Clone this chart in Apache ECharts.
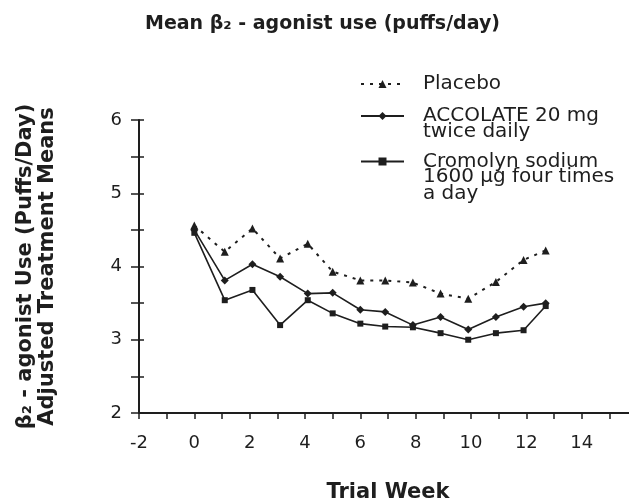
<!DOCTYPE html>
<html>
<head>
<meta charset="utf-8">
<script src="https://cdn.jsdelivr.net/npm/echarts@6/dist/echarts.min.js"></script>
<style>
  html, body { margin: 0; padding: 0; background: #fff; }
  #chart { width: 629px; height: 503px; }
</style>
</head>
<body>
<div id="chart"></div>
<script>
// data
const weeks = [0, 1.1, 2.1, 3.1, 4.1, 5, 6, 6.9, 7.9, 8.9, 9.9, 10.9, 11.9, 12.7]
const placebo = [4.56, 4.2, 4.52, 4.11, 4.31, 3.93, 3.81, 3.81, 3.78, 3.63, 3.56, 3.79, 4.09, 4.22]
const accolate = [4.5, 3.81, 4.03, 3.86, 3.63, 3.64, 3.41, 3.38, 3.2, 3.31, 3.14, 3.31, 3.45, 3.5]
const cromolyn = [4.46, 3.54, 3.68, 3.2, 3.54, 3.36, 3.22, 3.18, 3.17, 3.09, 3.0, 3.09, 3.13, 3.46]
const seriesNames = ['Placebo', 'ACCOLATE 20 mg\ntwice daily', 'Cromolyn sodium\n1600 µg four times\na day']

const ink = '#1e1e1e'
const font = 'DejaVu Sans'
const legendFont = 20
const lh = 16.5

const myChart = echarts.init(document.getElementById('chart'))

const toPoints = vals => weeks.map((w, i) => [w, vals[i]])

// legend shows the first line next to the symbol (symbol sits on that line),
// the rest of each name is written underneath as plain text
const legendTops = [74, 106, 151.5]
const legendFor = (name, top) => ({
  data: [name],
  orient: 'vertical',
  left: 360,
  top: top,
  padding: 0,
  itemWidth: 43,
  itemHeight: 10,
  itemGap: 0,
  selectedMode: false,
  formatter: n => n.split('\n')[0],
  textStyle: {
    color: ink,
    fontFamily: font,
    fontSize: legendFont,
    lineHeight: 17,
    padding: [0, 0, 0, 14],
  },
})

const extraLines = []
seriesNames.forEach((name, i) => {
  name.split('\n').slice(1).forEach((line, j) => {
    extraLines.push({
      type: 'text',
      x: 423,
      y: legendTops[i] + 9 + (j + 1) * lh,
      silent: true,
      style: {
        text: line,
        fill: ink,
        font: legendFont + 'px "' + font + '"',
        verticalAlign: 'middle',
      },
    })
  })
})

const option = {
  backgroundColor: '#fff',
  animation: false,
  title: {
    text: 'Mean β₂ - agonist use (puffs/day)',
    left: 140,
    top: 10,
    textStyle: { color: ink, fontFamily: font, fontSize: 19, fontWeight: 'bold' },
  },
  legend: legendTops.map((t, i) => legendFor(seriesNames[i], t)),
  graphic: extraLines,
  grid: { left: 139, right: -8, top: 120, bottom: 90, outerBoundsMode: 'none' },
  xAxis: {
    type: 'value',
    min: -2,
    max: 16,
    interval: 2,
    name: 'Trial Week',
    nameLocation: 'middle',
    nameGap: 69,
    nameTextStyle: { color: ink, fontFamily: font, fontSize: 21, fontWeight: 'bold' },
    axisLine: { onZero: false, lineStyle: { color: ink, width: 2 } },
    axisTick: { length: 6, lineStyle: { color: ink, width: 1.5 } },
    minorTick: { show: true, splitNumber: 2, length: 6, lineStyle: { color: ink, width: 1.5 } },
    axisLabel: { color: ink, fontFamily: font, fontSize: 18, margin: 21, showMaxLabel: false },
    splitLine: { show: false },
  },
  yAxis: [
    {
      type: 'value',
      min: 2,
      max: 6,
      interval: 1,
      name: 'β₂ - agonist Use (Puffs/Day)\nAdjusted Treatment Means',
      nameLocation: 'middle',
      nameRotate: 90,
      nameGap: 80,
      nameTextStyle: { color: ink, fontFamily: font, fontSize: 21, fontWeight: 'bold', lineHeight: 22 },
      axisLine: { onZero: false, lineStyle: { color: ink, width: 2 } },
      axisTick: { length: 8, lineStyle: { color: ink, width: 1.5 } },
      minorTick: { show: true, splitNumber: 2, length: 8, lineStyle: { color: ink, width: 1.5 } },
      axisLabel: { color: ink, fontFamily: font, fontSize: 18, margin: 17 },
      splitLine: { show: false },
    },
    {
      // same scale again, only for the inner half of the crossing ticks
      type: 'value',
      min: 2,
      max: 6,
      interval: 1,
      position: 'left',
      axisLine: { show: false, onZero: false },
      axisTick: { inside: true, length: 5, lineStyle: { color: ink, width: 1.5 } },
      minorTick: { show: true, splitNumber: 2, length: 5, lineStyle: { color: ink, width: 1.5 } },
      axisLabel: { show: false },
      splitLine: { show: false },
    },
  ],
  series: [
    {
      name: seriesNames[0],
      type: 'line',
      data: toPoints(placebo),
      symbol: 'triangle',
      symbolSize: 8,
      lineStyle: { color: ink, width: 2, type: [3, 6] },
      itemStyle: { color: ink },
      z: 3,
    },
    {
      name: seriesNames[1],
      type: 'line',
      data: toPoints(accolate),
      symbol: 'diamond',
      symbolSize: 8,
      lineStyle: { color: ink, width: 1.6 },
      itemStyle: { color: ink },
    },
    {
      name: seriesNames[2],
      type: 'line',
      data: toPoints(cromolyn),
      symbol: 'rect',
      symbolSize: 6,
      lineStyle: { color: ink, width: 1.6 },
      itemStyle: { color: ink },
    },
  ],
}

myChart.setOption(option)
</script>
</body>
</html>
